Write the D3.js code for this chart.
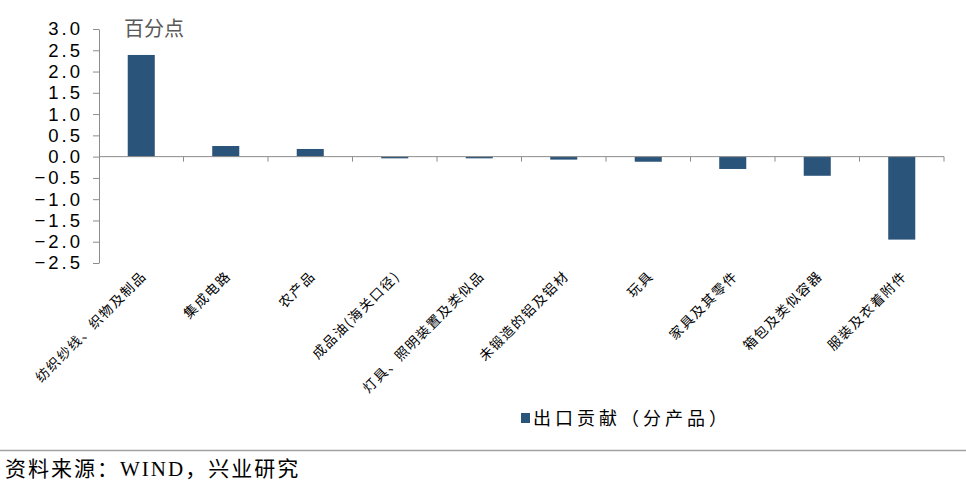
<!DOCTYPE html>
<html><head><meta charset="utf-8">
<script src="https://cdn.jsdelivr.net/npm/d3@7"></script>
<style>body{margin:0;background:#fff;}svg{display:block;}</style>
</head><body>
<svg id="c" width="966" height="481"></svg>
<script>
const categories = ["纺织纱线、织物及制品","集成电路","农产品","成品油(海关口径)","灯具、照明装置及类似品","未锻造的铝及铝材","玩具","家具及其零件","箱包及类似容器","服装及衣着附件"];
const values = [2.39, 0.25, 0.18, -0.04, -0.04, -0.07, -0.12, -0.29, -0.45, -1.95];
const yTicks = [3.0, 2.5, 2.0, 1.5, 1.0, 0.5, 0.0, -0.5, -1.0, -1.5, -2.0, -2.5];
const unitLabel = "百分点";
const legendLabel = "出口贡献（分产品）";
const sourceText = "资料来源：WIND，兴业研究";

(function(){
const svg = d3.select("#c");
const pL = 99, pR = 944, pT = 29, pB = 263;
const barColor = "#2a5479";
const axisColor = "#8c8c8c";

const x = d3.scaleBand().domain(categories).range([pL, pR]).paddingInner(0.68).paddingOuter(0.34);
const xb = d3.scaleBand().domain(categories).range([pL, pR]);
const y = d3.scaleLinear().domain([-2.5, 3.0]).range([pB, pT]);

// y axis
const yAxis = svg.append("g").attr("transform", `translate(${pL},0)`)
  .call(d3.axisLeft(y).tickValues(yTicks).tickSize(6).tickSizeOuter(0).tickPadding(10)
    .tickFormat(d => d < 0 ? "−" + Math.abs(d).toFixed(1) : d.toFixed(1)));
yAxis.select(".domain").attr("stroke", axisColor);
yAxis.selectAll(".tick line").attr("stroke", axisColor);
yAxis.selectAll("text").attr("font-family", "Liberation Sans, Arial, sans-serif")
  .attr("font-size", 18.5).attr("fill", "#000").style("letter-spacing", "3px");

// bars
svg.append("g").selectAll("rect").data(values).join("rect")
  .attr("x", (d, i) => x(categories[i]))
  .attr("width", x.bandwidth())
  .attr("y", d => y(Math.max(0, d)))
  .attr("height", d => Math.abs(y(d) - y(0)))
  .attr("fill", barColor);

// x axis at zero
const xg = svg.append("g").attr("transform", `translate(0,${y(0)})`);
xg.append("line").attr("x1", pL).attr("x2", pR).attr("y1", 0).attr("y2", 0).attr("stroke", axisColor);
const bounds = categories.map(c => xb(c)).concat([pR]).slice(1);
xg.selectAll("line.t").data(bounds).join("line").attr("class", "t")
  .attr("x1", d => d).attr("x2", d => d).attr("y1", 0).attr("y2", 5).attr("stroke", axisColor);

// category labels
svg.append("g").selectAll("text").data(categories).join("text")
  .attr("transform", c => `translate(${xb(c) + xb.bandwidth()/2 + 6},${277}) rotate(-45)`)
  .attr("text-anchor", "end")
  .attr("font-family", "Noto Sans CJK SC, sans-serif")
  .attr("font-size", 13.5).attr("fill", "#000")
  .style("letter-spacing", "1.5px")
  .text(c => c);

// unit label
svg.append("text").attr("x", 124).attr("y", 36).attr("font-family", "Noto Sans CJK SC, sans-serif")
  .attr("font-size", 20).attr("fill", "#595959").text(unitLabel);

// legend
svg.append("rect").attr("x", 521).attr("y", 413).attr("width", 9).attr("height", 10).attr("fill", barColor);
svg.append("text").attr("x", 533).attr("y", 425).attr("font-family", "Noto Sans CJK SC, sans-serif")
  .attr("font-size", 18).attr("fill", "#000").style("letter-spacing", "4px").text(legendLabel);

// separator and source
svg.append("line").attr("x1", 0).attr("x2", 966).attr("y1", 450.5).attr("y2", 450.5).attr("stroke", "#a0a0a0").attr("stroke-width", 1.5);
svg.append("text").attr("x", 5).attr("y", 476).attr("font-family", "Liberation Serif, Noto Sans CJK SC, serif")
  .attr("font-size", 21).attr("fill", "#000").style("letter-spacing", "2px").text(sourceText);
})();
</script>
</body></html>
